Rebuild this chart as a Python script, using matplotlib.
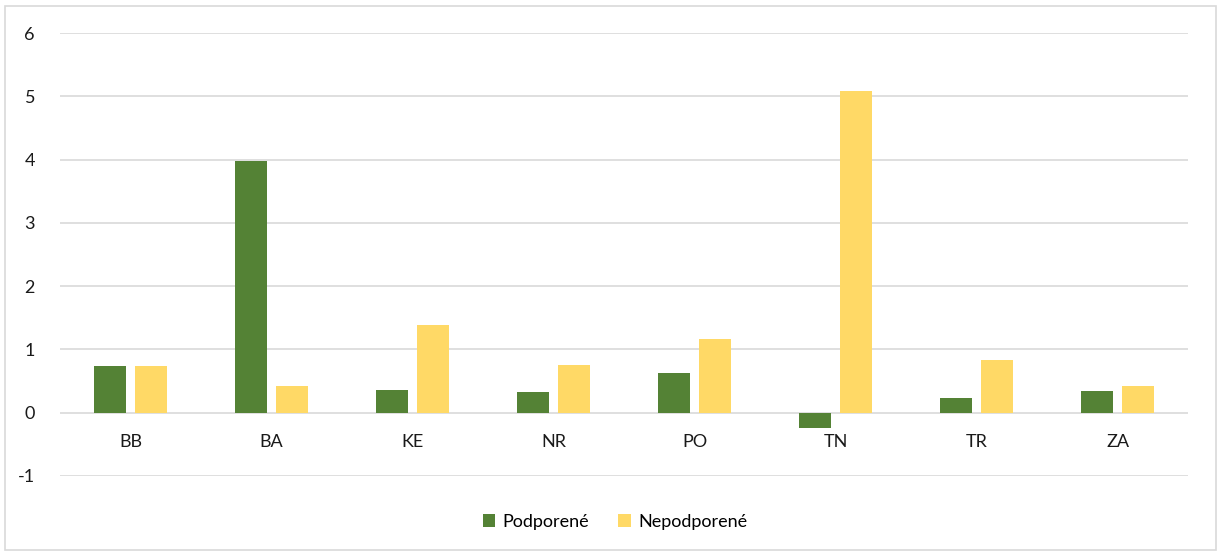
import matplotlib
matplotlib.use("Agg")
import matplotlib.pyplot as plt
import numpy as np
from matplotlib.patches import Rectangle

categories = ["BB", "BA", "KE", "NR", "PO", "TN", "TR", "ZA"]
podporene = [0.74, 3.97, 0.36, 0.32, 0.63, -0.24, 0.24, 0.35]
nepodporene = [0.74, 0.43, 1.38, 0.76, 1.17, 5.08, 0.83, 0.42]
series_names = ["Podporené", "Nepodporené"]
yticks = [-1, 0, 1, 2, 3, 4, 5, 6]

plt.rcParams['font.family'] = ['Lato', 'DejaVu Sans']

fig = plt.figure(figsize=(12.21, 5.55), dpi=100)
ax = fig.add_axes([60/1221, 1-476/555, (1188-60)/1221, (476-33)/555])

x = np.arange(len(categories))
w = 0.227
off = 0.145
ax.bar(x - off, podporene, w, color="#548235", label=series_names[0], zorder=3)
ax.bar(x + off, nepodporene, w, color="#FFD966", label=series_names[1], zorder=3)

ax.set_xlim(-0.5, len(categories) - 0.5)
ax.set_ylim(-1, 6)
ax.set_yticks(yticks)
ax.set_yticklabels([str(t) for t in yticks])
ax.grid(axis='y', color='#D9D9D9', linewidth=1.2, zorder=0)
for s in ['top', 'right', 'left']:
    ax.spines[s].set_visible(False)
ax.spines['bottom'].set_position(('data', 0))
ax.spines['bottom'].set_visible(False)
ax.set_xticks(x)
ax.set_xticklabels(categories)
ax.tick_params(axis='x', length=0, pad=15, labelsize=13, colors='#1a1a1a')
ax.tick_params(axis='y', length=0, pad=18, labelsize=13, colors='#1a1a1a')

leg = fig.legend(loc='center', bbox_to_anchor=(615/1221, 1-522/555), ncol=2,
                 frameon=False, fontsize=13, handlelength=0.7, handleheight=0.7,
                 columnspacing=1.6, handletextpad=0.4)

fig.patches.append(Rectangle((5/1221, 5/555), 1211/1221, 544/555, transform=fig.transFigure,
                             fill=False, edgecolor='#D9D9D9', linewidth=1.2))

fig.savefig("out.png", dpi=100)
